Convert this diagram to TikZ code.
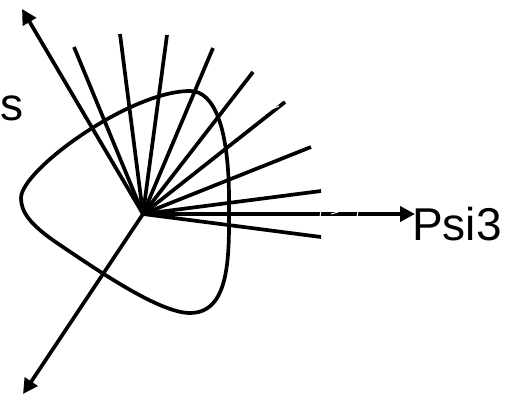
\documentclass[tikz,border=0pt]{standalone}
\usepackage{fontspec}
\setmainfont{Liberation Sans}
\usetikzlibrary{arrows.meta}
\tikzset{
  ray/.style={line width=3.7pt},
  axis/.style={line width=3.7pt,-{Triangle[length=15pt,width=15pt]}},
  blob/.style={line width=3.7pt},
  lbl/.style={font=\fontsize{46}{46}\selectfont,inner sep=0pt,anchor=base west},
  gap/.style={white,line width=1pt}
}
\begin{document}
\begin{tikzpicture}[x=1pt,y=-1pt]
\useasboundingbox (0,0) rectangle (506,396);
\coordinate (o) at (143,214);
\foreach \n/\p in {a/{74,47},b/{120,34},c/{167,35},d/{213,48},e/{253,72},f/{285,102},g/{311,147},h/{321,191},i/{321,237}}{
  \coordinate (\n) at (\p);
  \draw[ray] (o) -- (\n);
}
\coordinate (up) at (22,9);
\coordinate (dn) at (23,394);
\coordinate (rt) at (415,214);
\draw[axis] (o) -- (up);
\draw[axis] (o) -- (dn);
\draw[axis] (o) -- (rt);
\draw[blob] (190,91) .. controls (215,91) and (229,130) .. (229,200)
  .. controls (229,250) and (232,313) .. (190,313)
  .. controls (160,313) and (100,272) .. (60,245)
  .. controls (30,225) and (21,212) .. (21,198)
  .. controls (21,170) and (130,91) .. (190,91) -- cycle;
\draw[gap] (321,211) -- (320,217);
\draw[gap] (338,212) -- (331,214);
\draw[gap] (358,211) -- (357,217);
\draw[gap] (272,109) -- (279,106);
\node[lbl] (psi) at (412,240) {Psi3};
\node[lbl] (s) at (0,120) {s};
\end{tikzpicture}
\end{document}
